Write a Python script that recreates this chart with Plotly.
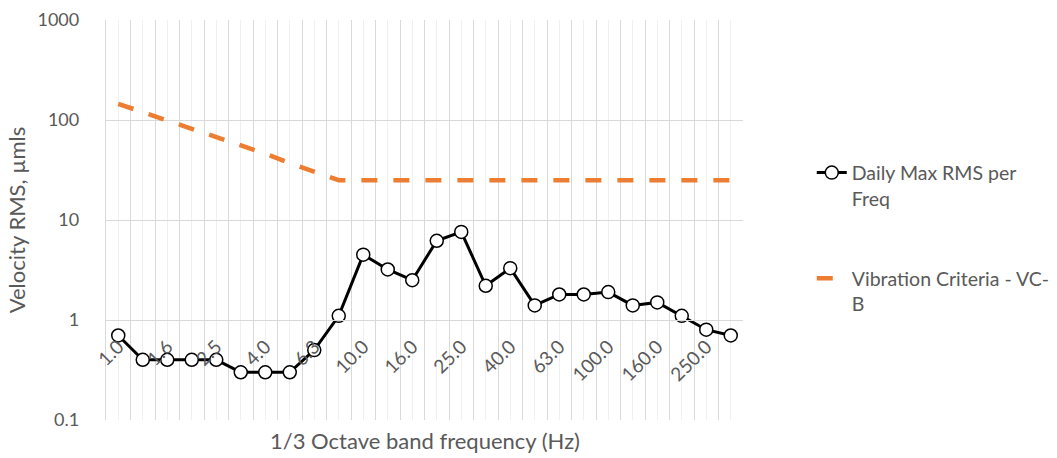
import plotly.graph_objects as go

bands = ["1.0", "1.25", "1.6", "2.0", "2.5", "3.15", "4.0", "5.0", "6.3", "8.0",
         "10.0", "12.5", "16.0", "20.0", "25.0", "31.5", "40.0", "50.0", "63.0",
         "80.0", "100.0", "125.0", "160.0", "200.0", "250.0", "315.0"]
daily_max = [0.7, 0.4, 0.4, 0.4, 0.4, 0.3, 0.3, 0.3, 0.5, 1.1,
             4.5, 3.2, 2.5, 6.2, 7.6, 2.2, 3.3, 1.4, 1.8, 1.8,
             1.9, 1.4, 1.5, 1.1, 0.8, 0.7]
vc_b = [145, 120, 100, 82, 68, 56, 46, 37, 30.5, 25,
        25, 25, 25, 25, 25, 25, 25, 25, 25, 25,
        25, 25, 25, 25, 25, 25]
y_ticks = [0.1, 1, 10, 100, 1000]
y_tick_text = ["0.1", "1", "10", "100", "1000"]

pos = list(range(len(bands)))
shown_labels = [b if i % 2 == 0 else "" for i, b in enumerate(bands)]

FONT = "Lato"
GRAY = "#595959"

fig = go.Figure()
fig.add_trace(go.Scatter(
    x=pos, y=daily_max, mode="lines+markers",
    name="Daily Max RMS per<br>Freq",
    line=dict(color="black", width=3),
    marker=dict(symbol="circle", size=13, color="white",
                line=dict(color="black", width=1.5)),
    legendgroup="a",
))
fig.add_trace(go.Scatter(
    x=pos, y=vc_b, mode="lines",
    name="Vibration Criteria - VC-<br>B",
    line=dict(color="#ED7D31", width=4.5, dash="16px,16px"),
    legendgroup="b",
))

fig.update_layout(
    width=1057, height=458,
    margin=dict(l=106, r=314, t=20, b=38),
    paper_bgcolor="white", plot_bgcolor="white",
    font=dict(family=FONT, size=18, color=GRAY),
    showlegend=True,
    legend=dict(xref="container", yref="container",
                x=0.768, y=0.665, xanchor="left", yanchor="top",
                font=dict(family=FONT, size=19.5, color=GRAY),
                valign="top", tracegroupgap=52, traceorder="grouped",
                bgcolor="rgba(0,0,0,0)", borderwidth=0),
    xaxis=dict(
        range=[-0.5, len(bands) - 0.5],
        tickmode="array", tickvals=pos, ticktext=shown_labels,
        tickangle=-45, ticks="", showgrid=True, gridcolor="#f0f0f0", gridwidth=1,
        minor=dict(tick0=0.5, dtick=1, showgrid=True, gridcolor="#d9d9d9", gridwidth=1.3),
        anchor="free", position=0.25,
        showline=True, linecolor="#d9d9d9", linewidth=1.3,
        zeroline=False, automargin=False,
        ticklabelstandoff=7,
        tickfont=dict(family=FONT, size=19, color=GRAY),
    ),
    yaxis=dict(
        type="log", range=[-1, 3],
        tickmode="array", tickvals=y_ticks, ticktext=y_tick_text,
        showgrid=True, gridcolor="#d9d9d9", gridwidth=1.3,
        showline=True, linecolor="#d9d9d9", linewidth=1.3,
        ticks="", ticklabelstandoff=22, automargin=False,
        tickfont=dict(family=FONT, size=18, color=GRAY),
        title=dict(text="Velocity RMS, µmls", standoff=5,
                   font=dict(family=FONT, size=22, color=GRAY)),
    ),
    annotations=[dict(
        text="1/3 Octave band frequency (Hz)", xref="paper", yref="paper",
        x=0.5, y=0, yshift=-20, xanchor="center", yanchor="middle",
        showarrow=False, font=dict(family=FONT, size=22, color=GRAY),
    )],
)

fig.write_html("out.html", config={"displayModeBar": False},
               post_script="document.body.style.margin='0';")
